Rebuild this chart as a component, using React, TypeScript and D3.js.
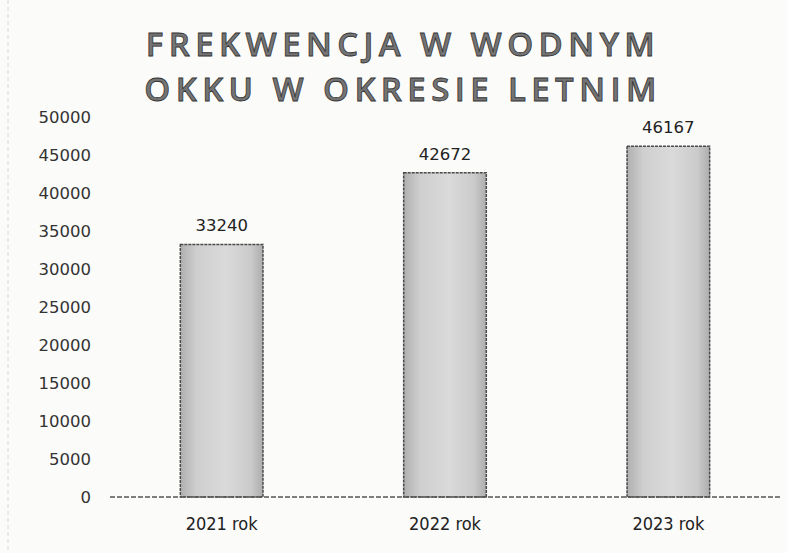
import React, { useRef, useEffect } from 'react';
import * as d3 from 'd3';

const title = ['FREKWENCJA W WODNYM', 'OKKU W OKRESIE LETNIM'];
const categories = ['2021 rok', '2022 rok', '2023 rok'];
const values = [33240, 42672, 46167];
const yTicks = [0, 5000, 10000, 15000, 20000, 25000, 30000, 35000, 40000, 45000, 50000];

const W = 787;
const H = 553;

const Chart = () => {
  const svgRef = useRef<SVGSVGElement>(null);

  useEffect(() => {
    const svg = d3.select(svgRef.current);
    svg.selectAll('*').remove();

    svg.append('rect').attr('width', W).attr('height', H).attr('fill', '#fbfbfa');
    svg.append('line')
      .attr('x1', 8).attr('x2', 8).attr('y1', 0).attr('y2', H)
      .attr('stroke', '#d8d8d8').attr('stroke-dasharray', '4,3');

    const defs = svg.append('defs');
    const grad = defs.append('linearGradient').attr('id', 'barGrad')
      .attr('x1', '0').attr('x2', '1').attr('y1', '0').attr('y2', '0');
    grad.append('stop').attr('offset', '0%').attr('stop-color', '#b0b0b0');
    grad.append('stop').attr('offset', '20%').attr('stop-color', '#cfcfcf');
    grad.append('stop').attr('offset', '55%').attr('stop-color', '#dadada');
    grad.append('stop').attr('offset', '85%').attr('stop-color', '#cbcbcb');
    grad.append('stop').attr('offset', '100%').attr('stop-color', '#adadad');

    const x = d3.scaleBand<string>()
      .domain(categories)
      .range([110, 780])
      .paddingInner(0.63)
      .paddingOuter(0.315);

    const y = d3.scaleLinear().domain([0, 50000]).range([497, 117]);

    // title
    svg.append('g').selectAll('text')
      .data(title)
      .enter()
      .append('text')
      .attr('x', 403)
      .attr('y', (_, i) => 56 + i * 45)
      .attr('text-anchor', 'middle')
      .attr('font-family', '"Open Sans", "DejaVu Sans", sans-serif')
      .attr('font-size', 33)
      .attr('font-weight', 600)
      .attr('letter-spacing', 5.4)
      .attr('fill', '#747474')
      .attr('stroke', '#333')
      .attr('stroke-width', 0.8)
      .text(d => d);

    // y tick labels
    svg.append('g').selectAll('text')
      .data(yTicks)
      .enter()
      .append('text')
      .attr('x', 91)
      .attr('y', d => y(d) + 6)
      .attr('text-anchor', 'end')
      .attr('font-family', '"DejaVu Sans", sans-serif')
      .attr('font-size', 16.5)
      .attr('fill', '#333')
      .text(d => d);

    // bars
    svg.append('g').selectAll('rect')
      .data(values)
      .enter()
      .append('rect')
      .attr('x', (_, i) => x(categories[i])!)
      .attr('y', d => y(d))
      .attr('width', x.bandwidth())
      .attr('height', d => y(0) - y(d))
      .attr('fill', 'url(#barGrad)')
      .attr('stroke', '#4a4a4a')
      .attr('stroke-width', 1.5)
      .attr('stroke-dasharray', '3,1');

    // baseline
    svg.append('line')
      .attr('x1', 110).attr('x2', 780)
      .attr('y1', y(0)).attr('y2', y(0))
      .attr('stroke', '#555')
      .attr('stroke-width', 1.5)
      .attr('stroke-dasharray', '5,2');

    // value labels
    svg.append('g').selectAll('text')
      .data(values)
      .enter()
      .append('text')
      .attr('x', (_, i) => x(categories[i])! + x.bandwidth() / 2)
      .attr('y', d => y(d) - 13)
      .attr('text-anchor', 'middle')
      .attr('font-family', '"DejaVu Sans", sans-serif')
      .attr('font-size', 16.5)
      .attr('fill', '#222')
      .text(d => d);

    // category labels
    svg.append('g').selectAll('text')
      .data(categories)
      .enter()
      .append('text')
      .attr('x', d => x(d)! + x.bandwidth() / 2)
      .attr('y', 530)
      .attr('text-anchor', 'middle')
      .attr('font-family', '"DejaVu Sans Condensed", "Liberation Sans Narrow", sans-serif')
      .attr('font-size', 18)
      .attr('fill', '#222')
      .text(d => d);
  }, []);

  return <svg ref={svgRef} width={W} height={H} style={{ display: 'block' }}></svg>;
};

export default function App() {
  return (
    <div style={{ position: 'absolute', left: 0, top: 0 }}>
      <Chart />
    </div>
  );
}
